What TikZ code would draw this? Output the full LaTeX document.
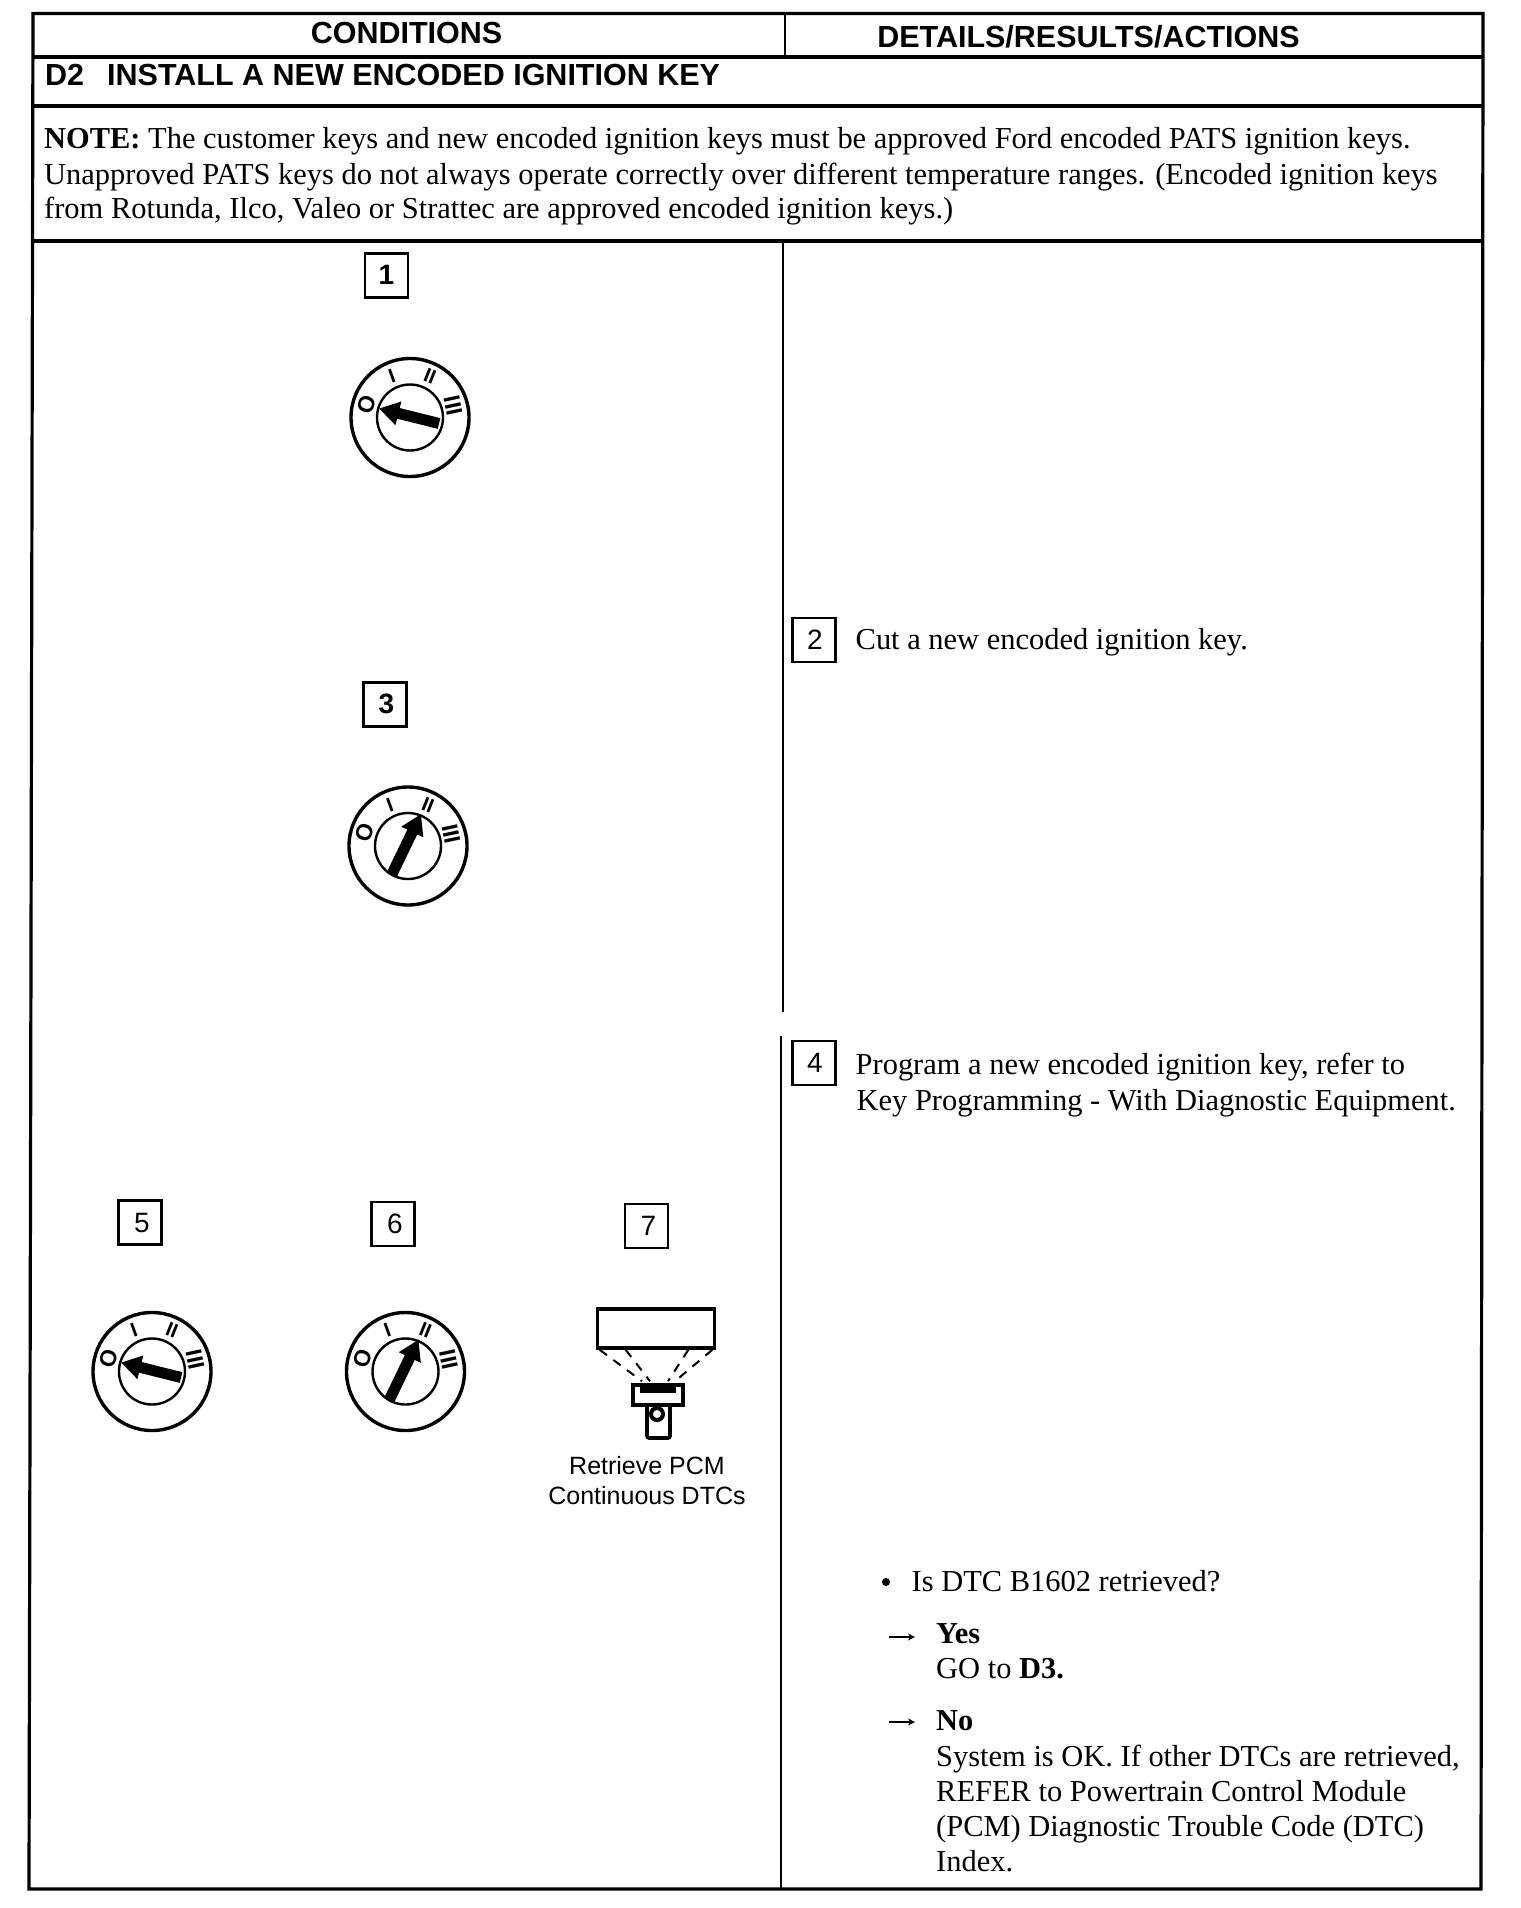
\documentclass[tikz,border=0pt]{standalone}
\usepackage{fontspec}
\setmainfont{Liberation Serif}
\setsansfont{Liberation Sans}
\usetikzlibrary{arrows.meta,calc}
\tikzset{
  rule/.style={line width=3.2pt,black},
  thinrule/.style={line width=2pt,black},
  body/.style={anchor=base west,inner sep=0pt,font=\fontsize{30.45}{35}\selectfont},
  bodybold/.style={body,font=\bfseries\fontsize{30.45}{35}\selectfont},
  heading/.style={anchor=base west,inner sep=0pt,font=\sffamily\bfseries\fontsize{30.5}{35}\selectfont},
  numbox/.style={draw,line width=2.2pt,minimum width=43pt,minimum height=44pt,inner sep=0pt,font=\sffamily\fontsize{28}{30}\selectfont},
  numboxb/.style={numbox,font=\sffamily\bfseries\fontsize{28}{30}\selectfont},
  dialmark/.style={inner sep=0pt,font=\sffamily\bfseries\fontsize{20}{20}\selectfont},
  dialmarkbig/.style={dialmark,font=\sffamily\bfseries\fontsize{23}{23}\selectfont},
  keyarrow/.style={line width=11pt,-{Triangle[length=20pt,width=23pt]}},
  capt/.style={inner sep=0pt,font=\sffamily\fontsize{25}{28}\selectfont},
  resultarrow/.style={line width=1.4pt,-{Stealth[length=7pt,width=7pt]}},
  toolray/.style={line width=2pt,dash pattern=on 9pt off 8pt}
}
\newcommand{\dialface}[3]{%
  \node[circle,draw,line width=3.4pt,minimum size=118pt,inner sep=0pt] (#3o) at (#1,#2) {};
  \node[circle,draw,line width=2.4pt,minimum size=66pt,inner sep=0pt] (#3i) at (#1,#2) {};
  \node[dialmarkbig,rotate=72] (#3m0) at ($(#3o.center)+(-43,-13)$) {O};
  \node[dialmark,rotate=20] (#3m1) at ($(#3o.center)+(-18,-41)$) {I};
  \node[dialmark,rotate=-22] (#3m2) at ($(#3o.center)+(20,-41)$) {II};
  \node[dialmarkbig,rotate=-78] (#3m3) at ($(#3o.center)+(43,-12)$) {III};
}
\begin{document}
\begin{tikzpicture}[x=1pt,y=-1pt]
\useasboundingbox (0,0) rectangle (1520,1908);
% frame
\coordinate (tl) at (33,13.5); \coordinate (tr) at (1483,13.5);
\coordinate (br) at (1481,1889); \coordinate (bl) at (29,1889);
\draw[rule,line join=miter] (tl) -- (tr) -- (br) -- (bl) -- cycle;
\coordinate (a1) at (33,57); \coordinate (a2) at (1483,57);
\coordinate (b1) at (33,106); \coordinate (b2) at (1483,106);
\coordinate (c1) at (32,241); \coordinate (c2) at (1483,241);
\draw[rule] (a1) -- (a2);
\draw[rule] (b1) -- (b2);
\draw[rule] (c1) -- (c2);
\coordinate (v1) at (785,13.5); \coordinate (v2) at (785,57);
\coordinate (v3) at (782.5,241); \coordinate (v4) at (782.5,1012);
\coordinate (v5) at (781,1036); \coordinate (v6) at (781,1889);
\draw[thinrule] (v1) -- (v2);
\draw[thinrule] (v3) -- (v4);
\draw[thinrule] (v5) -- (v6);
% headings
\node[heading,anchor=base] (h1) at (406.5,44) {CONDITIONS};
\node[heading,anchor=base] (h2) at (1088.5,48) {DETAILS/RESULTS/ACTIONS};
\node[heading] (d2) at (45,86) {D2};
\node[heading] (d2t) at (107,86) {INSTALL A NEW ENCODED IGNITION KEY};
% note
\node[body] (n1) at (44,149) {\textbf{NOTE:} The customer keys and new encoded ignition keys must be approved Ford encoded PATS ignition keys.};
\node[body] (n2) at (44,184) {Unapproved PATS keys do not always operate correctly over different temperature ranges. (Encoded ignition keys};
\node[body] (n3) at (44,218) {from Rotunda, Ilco, Valeo or Strattec are approved encoded ignition keys.)};
% number boxes
\node[numboxb] (s1) at (386.5,275.5) {\raisebox{2pt}{1}};
\node[numboxb] (s3) at (385,704.5) {\hspace*{3pt}\raisebox{2pt}{3}};
\node[numbox] (s2) at (814,640) {\hspace*{2pt}2};
\node[numbox] (s4) at (814,1063) {\hspace*{2pt}4};
\node[numbox] (s5) at (140,1222.5) {\hspace*{4pt}5};
\node[numbox] (s6) at (393,1224) {\hspace*{4pt}6};
\node[numbox] (s7) at (646.5,1226) {\hspace*{4pt}7};
% dials
\dialface{410}{417.5}{k1}
\draw[keyarrow] ($(k1o.center)+(29,6)$) -- ($(k1o.center)+(-31,-9)$);
\dialface{408}{846}{k3}
\draw[keyarrow] ($(k3o.center)+(-16,28)$) -- ($(k3o.center)+(13,-32)$);
\dialface{152}{1371.5}{k5}
\draw[keyarrow] ($(k5o.center)+(29,6)$) -- ($(k5o.center)+(-31,-9)$);
\dialface{405.5}{1371.5}{k6}
\draw[keyarrow] ($(k6o.center)+(-16,28)$) -- ($(k6o.center)+(13,-32)$);
% scan tool
\node[draw,line width=3.6pt,minimum width=117pt,minimum height=39pt,inner sep=0pt] (scr) at (656,1328.5) {};
\node[draw,line width=3.6pt,minimum width=50pt,minimum height=20pt,inner sep=0pt] (head) at (658,1395) {};
\node[draw,line width=3.6pt,rounded corners=2pt,minimum width=23pt,minimum height=33pt,inner sep=0pt] (hand) at (658.5,1421.5) {};
\node[circle,draw,line width=4pt,minimum size=12pt,inner sep=0pt] (lens) at (657,1414) {};
\node[fill=black,minimum width=36pt,minimum height=6pt,inner sep=0pt] (slot) at (658,1390) {};
\draw[toolray] ($(scr.south west)+(4,0)$) -- ($(head.north)+(-16,-2)$);
\draw[toolray] ($(scr.south west)+(30,0)$) -- ($(head.north)+(-8,-2)$);
\draw[toolray] ($(scr.south east)+(-28,0)$) -- ($(head.north)+(10,-2)$);
\draw[toolray] ($(scr.south east)+(-4,0)$) -- ($(head.north)+(17,-2)$);
\node[capt,anchor=base] (c1t) at (647,1474) {Retrieve PCM};
\node[capt,anchor=base] (c2t) at (647,1504) {Continuous DTCs};
% right column
\node[body] (t2) at (855.5,649) {Cut a new encoded ignition key.};
\node[body] (t4a) at (855.5,1074) {Program a new encoded ignition key, refer to};
\node[body] (t4b) at (856.5,1110) {Key Programming - With Diagnostic Equipment.};
\node[circle,fill=black,minimum size=8pt,inner sep=0pt] (bul) at (886,1582) {};
\node[body] (q) at (911.5,1591) {Is DTC B1602 retrieved?};
\coordinate (y0) at (889,1637); \coordinate (y1) at (915,1637);
\draw[resultarrow] (y0) -- (y1);
\node[bodybold] (yes) at (936,1643) {Yes};
\node[body] (go) at (936,1678) {GO to \textbf{D3.}};
\coordinate (n0) at (889,1722); \coordinate (n1a) at (915,1722);
\draw[resultarrow] (n0) -- (n1a);
\node[bodybold] (no) at (936,1730) {No};
\node[body] (r1) at (936,1766) {System is OK. If other DTCs are retrieved,};
\node[body] (r2) at (936,1801) {REFER to Powertrain Control Module};
\node[body] (r3) at (936,1836) {(PCM) Diagnostic Trouble Code (DTC)};
\node[body] (r4) at (936,1871) {Index.};
\end{tikzpicture}
\end{document}
